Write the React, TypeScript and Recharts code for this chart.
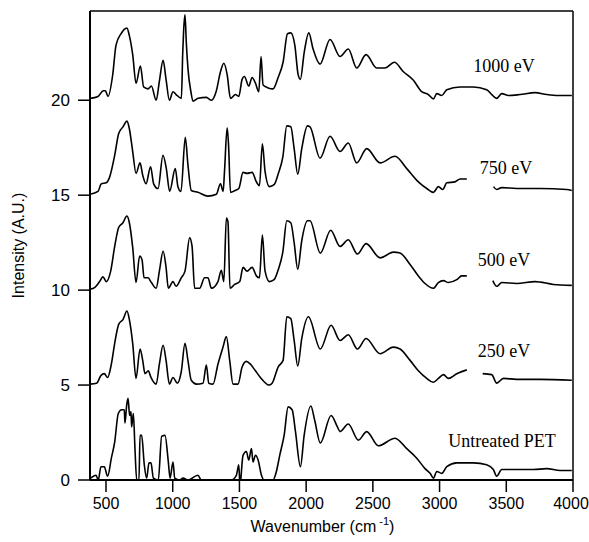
import { ComposedChart, Line, XAxis, YAxis, ReferenceDot, ReferenceLine } from "recharts";

// wavenumber (cm-1) / relative intensity pairs; null = gap in the trace
const untreatedPet: Array<[number, number | null]> = [
  [385, 0.1], [425, 0.25], [442, 0], [462, 0.7], [487, 0.7], [512, 0.2], [540, 1.15], [565, 2.0],
  [592, 3.5], [617, 3.7], [637, 3.7], [642, 3.0], [655, 3.95], [665, 4.3], [677, 3.4], [687, 3.6],
  [692, 2.8], [705, 3.5], [717, 1.65], [730, 0], [747, 0], [755, 2.35], [767, 2.35], [787, 0.8],
  [805, 0.1], [822, 0.9], [837, 0.9], [855, 0.1], [892, 0], [917, 2.3], [942, 2.35], [967, 0.95],
  [980, 0.1], [1002, 0.95], [1015, 0.1], [1052, 0], [1077, 0.1], [1114, 0], [1189, 0.25], [1214, 0],
  [1314, 0], [1439, 0], [1477, 0.25], [1495, 0.8], [1505, -0.4], [1510, 0], [1527, 1.3], [1552, 1.5],
  [1570, 1.05], [1590, 1.65], [1602, 0.95], [1620, 1.3], [1640, 1.05], [1665, 0.25], [1685, 0],
  [1752, 0], [1777, 0.45], [1802, 1.3], [1835, 2.35], [1865, 3.85], [1895, 3.7], [1920, 2.55],
  [1957, 0.7], [1985, 2.35], [2035, 3.9], [2064, 3.15], [2106, 1.95], [2187, 3.4], [2234, 2.8],
  [2254, 2.55], [2316, 2.95], [2391, 2.1], [2454, 2.55], [2541, 1.8], [2666, 2.2], [2754, 1.65],
  [2829, 1.15], [2891, 0.6], [2929, 0.35], [2954, 0.1], [2979, 0.45], [3016, 0.35], [3054, 0.7],
  [3129, 0.9], [3253, 0.9], [3353, 0.8], [3403, 0.55], [3428, 0.2], [3466, 0.55], [3578, 0.55],
  [3703, 0.55], [3803, 0.6], [3903, 0.5], [3991, 0.5],
];

const ev250: Array<[number, number | null]> = [
  [380, 0.05], [430, 0.1], [462, 0.5], [487, 0.6], [512, 0.4], [540, 1.1], [565, 2.2], [595, 3.2],
  [627, 3.45], [657, 3.9], [675, 3.45], [700, 2.2], [725, 0.35], [755, 1.9], [775, 1.3], [792, 0.6],
  [817, 0.75], [837, 0.4], [876, 0.05], [900, 1.1], [928, 2.1], [950, 1.3], [975, 0.05], [1002, 0.4],
  [1035, 0.1], [1064, 0.7], [1092, 2.2], [1114, 1.3], [1139, 0.25], [1177, 0.05], [1227, 0.1],
  [1252, 1.05], [1270, 0.1], [1302, 0.05], [1339, 1.1], [1377, 2.0], [1402, 2.55], [1427, 1.3],
  [1452, 0.05], [1489, 0.05], [1520, 0.95], [1552, 1.25], [1582, 1.1], [1620, 0.75], [1657, 0.4],
  [1682, 0.2], [1720, 0], [1745, 0.1], [1790, 0.95], [1827, 1.3], [1855, 3.6], [1885, 3.5],
  [1910, 2.35], [1937, 1.0], [1967, 2.45], [2017, 3.6], [2106, 1.9], [2187, 3.15], [2254, 2.35],
  [2316, 2.65], [2384, 1.9], [2449, 2.45], [2554, 1.65], [2654, 2.0], [2704, 1.9], [2779, 1.3],
  [2841, 0.75], [2904, 0.35], [2954, 0.15], [2991, 0.35], [3029, 0.55], [3066, 0.35], [3129, 0.6],
  [3204, 0.8], [3260, null], [3323, 0.6], [3391, 0.55], [3428, 0.1], [3479, 0.35], [3578, 0.3],
  [3753, 0.3], [3991, 0.25],
];

const ev500: Array<[number, number | null]> = [
  [380, 0.05], [417, 0.15], [452, 0.45], [477, 0.7], [502, 0.45], [535, 1.0], [565, 2.3], [595, 3.3],
  [627, 3.55], [657, 3.9], [675, 3.55], [700, 2.25], [725, 0.4], [752, 1.8], [770, 1.6], [785, 0.65],
  [815, 0.65], [840, 0.4], [876, 0.1], [900, 1.0], [928, 2.05], [950, 1.2], [967, 0.1], [1002, 0.45],
  [1025, 0.2], [1064, 0.65], [1092, 1.0], [1127, 2.75], [1145, 2.3], [1164, 0.1], [1202, 0.1],
  [1239, 0.65], [1264, 0.65], [1290, 0.1], [1339, 0.45], [1364, 1.05], [1383, 0.45], [1402, 3.8],
  [1414, 3.6], [1429, 0.1], [1464, 0.3], [1502, 0.45], [1527, 1.2], [1557, 1.0], [1595, 1.2],
  [1627, 0.75], [1650, 0.65], [1672, 2.9], [1692, 1.0], [1725, 0.45], [1760, 0.55], [1792, 1.1],
  [1825, 2.0], [1855, 3.65], [1885, 3.55], [1910, 2.5], [1937, 1.1], [1967, 2.6], [2010, 3.65],
  [2029, 3.65], [2106, 1.95], [2184, 3.15], [2254, 2.3], [2316, 2.65], [2384, 1.9], [2449, 2.45],
  [2554, 1.7], [2654, 2.0], [2704, 1.95], [2779, 1.35], [2841, 0.75], [2891, 0.35], [2954, 0.1],
  [2991, 0.4], [3029, 0.5], [3066, 0.4], [3129, 0.55], [3166, 0.75], [3204, 0.75], [3300, null],
  [3399, 0.5], [3428, 0.2], [3466, 0.4], [3578, 0.35], [3716, 0.45], [3853, 0.3], [3991, 0.25],
];

const ev750: Array<[number, number | null]> = [
  [380, 0.05], [440, 0.2], [465, 0.6], [502, 0.65], [527, 0.95], [565, 2.1], [595, 3.25], [627, 3.6],
  [657, 3.9], [675, 3.5], [700, 2.3], [725, 1.15], [755, 1.7], [775, 1.05], [800, 0.6], [834, 1.5],
  [857, 0.6], [890, 0.35], [927, 2.1], [952, 1.4], [977, 0.2], [1019, 1.4], [1039, 0.45], [1062, 0.2],
  [1094, 3.05], [1114, 1.6], [1139, 0.25], [1189, 0.15], [1264, -0.05], [1327, 0.05], [1358, 0.6],
  [1378, 0.2], [1388, 1.25], [1408, 3.55], [1418, 2.7], [1433, 0.15], [1468, 0.25], [1495, 0.35],
  [1527, 1.2], [1557, 1.15], [1595, 1.2], [1627, 0.7], [1650, 0.5], [1672, 2.7], [1692, 1.25],
  [1725, 0.45], [1760, 0.55], [1792, 1.15], [1825, 2.0], [1855, 3.65], [1885, 3.6], [1910, 2.45],
  [1937, 1.1], [1967, 2.45], [2010, 3.65], [2029, 3.6], [2104, 1.95], [2179, 3.1], [2254, 2.3],
  [2316, 2.75], [2379, 1.7], [2454, 2.45], [2554, 1.7], [2666, 2.05], [2754, 1.4], [2841, 0.7],
  [2904, 0.35], [2954, 0.15], [2991, 0.45], [3024, 0.3], [3054, 0.65], [3116, 0.7], [3154, 0.85],
  [3204, 0.85], [3300, null], [3404, 0.45], [3428, 0.3], [3466, 0.4], [3578, 0.35], [3753, 0.35],
  [3953, 0.3], [3991, 0.25],
];

const ev1000: Array<[number, number | null]> = [
  [380, 0.1], [440, 0.2], [480, 0.5], [495, 0.5], [515, 0.2], [550, 1.33], [575, 2.9], [612, 3.5],
  [657, 3.8], [675, 3.4], [700, 2.4], [725, 0.9], [758, 1.8], [782, 0.7], [815, 0.6], [840, 0.75],
  [876, 0], [900, 1.0], [928, 2.1], [950, 1.1], [975, 0], [1002, 0.45], [1025, 0.3], [1065, 0.1],
  [1075, 2.5], [1082, 3.7], [1092, 4.5], [1102, 3.0], [1115, 1.6], [1135, 0.5], [1152, -0.05],
  [1190, 0.1], [1252, 0.15],
  [1290, 0], [1325, 0.45], [1358, 1.5], [1383, 1.95], [1408, 1.35], [1433, 0.1], [1470, 0.3],
  [1495, 0.2], [1520, 1.1], [1537, 1.25], [1570, 0.75], [1595, 1.2], [1620, 0.9], [1645, 0.45],
  [1662, 2.3], [1677, 0.8], [1715, 0.65], [1752, 0.6], [1790, 1.2], [1827, 2.0], [1860, 3.5],
  [1885, 3.55], [1915, 2.9], [1940, 1.35], [1957, 1.1], [1985, 2.5], [2020, 3.55], [2052, 2.7],
  [2104, 1.9], [2179, 3.2], [2254, 2.3], [2316, 2.7], [2379, 1.7], [2449, 2.4], [2529, 1.7],
  [2591, 1.7], [2661, 2.0], [2729, 1.5], [2804, 1.05], [2866, 0.45], [2916, 0.3], [2954, 0.07],
  [2979, 0.35], [3016, 0.25], [3054, 0.55], [3153, 0.7], [3253, 0.7], [3353, 0.55], [3391, 0.3],
  [3428, 0.1], [3466, 0.35], [3516, 0.25], [3603, 0.3], [3716, 0.4], [3803, 0.3], [3891, 0.25],
  [3991, 0.25],
];

const spectra = [untreatedPet, ev250, ev500, ev750, ev1000];
const offsets = [0, 5, 10, 15, 20];
const spectrumLabels = ["Untreated PET", "250 eV", "500 eV", "750 eV", "1000 eV"];
const labelPositions: Array<[number, number]> = [[3468, 2.08], [3483, 6.8], [3483, 11.6], [3498, 16.45], [3483, 21.8]];

const xTicks = [500, 1000, 1500, 2000, 2500, 3000, 3500, 4000];
const yTicks = [0, 5, 10, 15, 20];
const xDomain: [number, number] = [380, 4000];
const yDomain: [number, number] = [0, 24.7];

const sans = "'Liberation Sans', Arial, sans-serif";
const serif = "'Liberation Serif', 'Times New Roman', serif";

function toPoints(pairs: Array<[number, number | null]>, offset: number) {
  return pairs.map(([w, i]) => ({ w, v: i === null ? null : i + offset }));
}

// last label would run off the page edge, so nudge it inwards like the original
function XTick(props: any) {
  const { x, y, payload } = props;
  const last = payload.value === xTicks[xTicks.length - 1];
  return (
    <text x={last ? x - 2 : x} y={y} dy="0.71em" textAnchor="middle" fontSize={16} fontFamily={sans} fill="#000">
      {payload.value}
    </text>
  );
}

export default function App() {
  return (
    <div style={{ position: "absolute", left: 0, top: 0, background: "#fff" }}>
      <ComposedChart width={589} height={542} margin={{ top: 11, right: 16, bottom: 0, left: 0 }}>
        <XAxis
          dataKey="w"
          type="number"
          domain={xDomain}
          ticks={xTicks}
          allowDataOverflow
          height={62}
          tickSize={12}
          tickMargin={6}
          axisLine={{ stroke: "#000", strokeWidth: 2 }}
          tickLine={{ stroke: "#000", strokeWidth: 1.5 }}
          tick={<XTick />}
          label={{
            content: (props: any) => {
              const vb = props.viewBox;
              return (
                <text x={vb.x + vb.width / 2 - 9} y={532} textAnchor="middle" fontSize={16} fontFamily={sans} fill="#000">
                  Wavenumber (cm
                  <tspan dy={-7} fontSize={11}> -1</tspan>
                  <tspan dy={7}>)</tspan>
                </text>
              );
            },
          }}
        />
        <YAxis
          type="number"
          domain={yDomain}
          ticks={yTicks}
          allowDataOverflow
          width={90}
          tickSize={12}
          tickMargin={8}
          axisLine={{ stroke: "#000", strokeWidth: 2 }}
          tickLine={{ stroke: "#000", strokeWidth: 1.5 }}
          tick={{ fill: "#000", fontSize: 17, fontFamily: sans }}
          label={{
            content: (props: any) => {
              const vb = props.viewBox;
              const cy = vb.y + vb.height / 2;
              return (
                <text x={20} y={cy} transform={`rotate(-90, 20, ${cy})`} textAnchor="middle" dominantBaseline="middle" fontSize={16} fontFamily={sans} fill="#000">
                  Intensity (A.U.)
                </text>
              );
            },
          }}
        />
        <ReferenceLine y={yDomain[1]} stroke="#000" strokeWidth={1.5} />
        <ReferenceLine x={xDomain[1]} stroke="#000" strokeWidth={1.5} />
        {spectra.map((s, idx) => (
          <Line
            key={spectrumLabels[idx]}
            data={toPoints(s, offsets[idx])}
            dataKey="v"
            type="monotone"
            stroke="#000"
            strokeWidth={1.6}
            dot={false}
            connectNulls={false}
            isAnimationActive={false}
          />
        ))}
        {spectrumLabels.map((name, idx) => (
          <ReferenceDot
            key={name}
            x={labelPositions[idx][0]}
            y={labelPositions[idx][1]}
            r={0}
            fill="none"
            stroke="none"
            label={{ value: name, position: "center", fontSize: 18, fontFamily: serif, fill: "#000" }}
          />
        ))}
      </ComposedChart>
    </div>
  );
}
